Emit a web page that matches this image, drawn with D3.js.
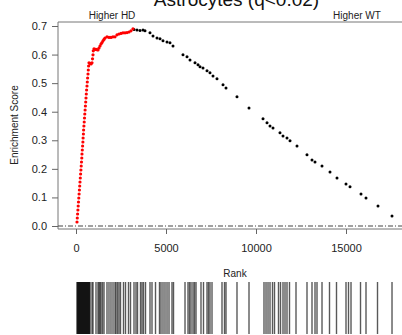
<!DOCTYPE html>
<html>
<head>
<meta charset="utf-8">
<script src="https://cdn.jsdelivr.net/npm/d3@7"></script>
<style>
    body { margin: 0; background: #fff; }
    text { font-family: "Liberation Sans", Arial, Helvetica, sans-serif; }
</style>
</head>
<body>
<script>
const leadingRanks = [56, 72, 89, 106, 122, 139, 156, 172, 189, 206, 222, 239, 256, 272, 289, 306, 322, 333, 350, 367,
    383, 394, 411, 422, 439, 456, 472, 489, 506, 522, 539, 556, 572, 589, 611, 628, 645, 667, 683, 700,
    722, 778, 833, 889, 917, 944, 961, 1000, 1056, 1111, 1167, 1222, 1278, 1333, 1389, 1444, 1500, 1556, 1611,
    1722, 1833, 1944, 2056, 2167, 2278, 2389, 2500, 2611, 2722, 2833, 2944, 3056, 3167]
const leadingES = [0.014, 0.028, 0.042, 0.056, 0.070, 0.084, 0.098, 0.112, 0.126, 0.140, 0.154, 0.168, 0.182, 0.196,
    0.210, 0.224, 0.238, 0.252, 0.266, 0.280, 0.294, 0.308, 0.322, 0.336, 0.350, 0.364, 0.378, 0.392, 0.406,
    0.420, 0.434, 0.448, 0.462, 0.476, 0.490, 0.504, 0.518, 0.532, 0.546, 0.560,
    0.571, 0.569, 0.567, 0.571, 0.585, 0.599, 0.613, 0.620, 0.618, 0.618, 0.617, 0.616, 0.623, 0.630, 0.637,
    0.642, 0.648, 0.653, 0.658, 0.662, 0.660, 0.660, 0.662, 0.662, 0.669, 0.672, 0.674, 0.676, 0.676, 0.677,
    0.679, 0.683, 0.690]
const tailRanks = [3222, 3389, 3556, 3722, 3833, 4111, 4278, 4500, 4667, 4833, 5056, 5222, 5389, 5944, 6167, 6333,
    6611, 6778, 6889, 7056, 7278, 7444, 7611, 7833, 8167, 8333, 8944, 9611, 10389, 10611, 10778, 10944, 11333,
    11500, 11722, 11889, 12278, 12833, 13111, 13278, 13667, 14111, 14500, 15000, 15222, 15833, 16111, 16778, 17556]
const tailES = [0.688, 0.686, 0.684, 0.686, 0.683, 0.676, 0.665, 0.658, 0.655, 0.648, 0.644, 0.641, 0.630, 0.599,
    0.592, 0.581, 0.571, 0.564, 0.557, 0.553, 0.543, 0.536, 0.525, 0.515, 0.494, 0.483, 0.452, 0.413, 0.375,
    0.361, 0.350, 0.343, 0.326, 0.315, 0.308, 0.298, 0.280, 0.249, 0.231, 0.224, 0.210, 0.189, 0.168, 0.147,
    0.137, 0.112, 0.098, 0.070, 0.035]
// gene set positions in the ranked list (barcode)
const hitRanks = [56, 83, 111, 139, 167, 194, 222, 250, 278, 306, 333, 361, 389, 417, 444, 472, 500, 528, 556, 583,
    611, 639, 667, 694, 722, 750, 778, 889, 944, 1111, 1222, 1278, 1333, 1389, 1472, 1556, 1722, 1833, 1944, 2056,
    2167, 2222, 2306, 2389, 2472, 2639, 2750, 2917, 3028, 3222, 3333, 3417, 3583, 3667, 3750, 3861, 4111, 4222,
    4417, 4639, 4722, 4833, 4944, 5056, 5167, 5333, 5417, 6056, 6222, 6306, 6389, 6500, 6583, 6667, 6944, 7083,
    7278, 7361, 7444, 7556, 8111, 8250, 8333, 8944, 9611, 10444, 10556, 10667, 10778, 10917, 11028, 11250, 11361,
    11500, 11611, 11722, 11861, 12222, 12833, 13111, 13278, 13389, 13667, 14083, 14472, 15000, 15139, 15278,
    15806, 16111, 16750, 17556]
const xTicks = [0, 5000, 10000, 15000]
const yTicks = [0, 0.1, 0.2, 0.3, 0.4, 0.5, 0.6, 0.7]

const width = 402, height = 335
const plotLeft = 58, plotRight = 415, plotTop = 22, plotBottom = 229

const x = d3.scaleLinear().domain([-1000, 18833]).range([plotLeft, plotRight])
const y = d3.scaleLinear().domain([-0.0105, 0.7140]).range([plotBottom, plotTop])

const svg = d3.select("body").append("svg")
    .attr("width", width)
    .attr("height", height)

svg.append("text")
    .attr("x", 236.5).attr("y", 6)
    .attr("text-anchor", "middle")
    .attr("font-size", 19)
    .attr("fill", "#111")
    .text("Astrocytes (q<0.02)")

svg.append("text").attr("x", 112).attr("y", 19).attr("text-anchor", "middle")
    .attr("font-size", 10).attr("fill", "#222").text("Higher HD")
svg.append("text").attr("x", 357).attr("y", 19).attr("text-anchor", "middle")
    .attr("font-size", 10).attr("fill", "#222").text("Higher WT")

// box
svg.append("path")
    .attr("d", `M${plotRight},${plotTop}H${plotLeft}V${plotBottom}H${plotRight}`)
    .attr("fill", "none")
    .attr("stroke", "#777")
    .attr("stroke-width", 1)

svg.append("line")
    .attr("x1", plotLeft).attr("x2", plotRight)
    .attr("y1", y(0)).attr("y2", y(0))
    .attr("stroke", "#444")
    .attr("stroke-width", 1)
    .attr("stroke-dasharray", "5,2,1,2")

const yAxis = svg.append("g")
    .attr("transform", `translate(${plotLeft},0)`)
    .call(d3.axisLeft(y).tickValues(yTicks).tickFormat(d3.format(".1f")).tickSize(6).tickPadding(5))
yAxis.select(".domain").remove()
yAxis.selectAll("line").attr("stroke", "#666")
yAxis.selectAll("text").attr("font-size", 11).attr("fill", "#222").attr("font-family", null)

const xAxis = svg.append("g")
    .attr("transform", `translate(0,${plotBottom})`)
    .call(d3.axisBottom(x).tickValues(xTicks).tickFormat(d3.format("d")).tickSize(5).tickPadding(10))
xAxis.select(".domain").remove()
xAxis.selectAll("line").attr("stroke", "#666")
xAxis.selectAll("text").attr("font-size", 11).attr("fill", "#222").attr("font-family", null)

svg.append("text")
    .attr("transform", "translate(18,125) rotate(-90)")
    .attr("text-anchor", "middle")
    .attr("font-size", 10)
    .attr("fill", "#222")
    .text("Enrichment Score")

svg.append("g").selectAll("circle")
    .data(tailRanks.map((r, i) => [r, tailES[i]]))
    .join("circle")
    .attr("cx", d => x(d[0]))
    .attr("cy", d => y(d[1]))
    .attr("r", 1.5)
    .attr("fill", "#000")

svg.append("g").selectAll("circle")
    .data(leadingRanks.map((r, i) => [r, leadingES[i]]))
    .join("circle")
    .attr("cx", d => x(d[0]))
    .attr("cy", d => y(d[1]))
    .attr("r", 1.6)
    .attr("fill", "#f00")

svg.append("text")
    .attr("x", 235).attr("y", 277)
    .attr("text-anchor", "middle")
    .attr("font-size", 10)
    .attr("fill", "#222")
    .text("Rank")

svg.append("g").selectAll("line")
    .data(hitRanks)
    .join("line")
    .attr("x1", d => x(d)).attr("x2", d => x(d))
    .attr("y1", 282).attr("y2", 334)
    .attr("stroke", "#000")
    .attr("stroke-width", 1.4)
    .attr("stroke-opacity", 0.65)
</script>
</body>
</html>
